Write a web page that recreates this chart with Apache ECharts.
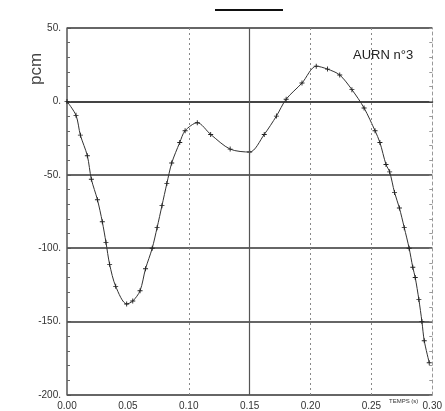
<!DOCTYPE html>
<html>
<head>
<meta charset="utf-8">
<script src="https://cdn.jsdelivr.net/npm/echarts@6/dist/echarts.min.js"></script>
<style>html,body{margin:0;padding:0;background:#fff}#c{width:445px;height:411px}</style>
</head>
<body>
<div id="c"></div>
<script>
// Data
var times = [0.000, 0.0074, 0.011, 0.0167, 0.020, 0.025, 0.029, 0.032, 0.035, 0.040, 0.049, 0.054, 0.060, 0.0645, 0.070, 0.074, 0.078, 0.082, 0.086, 0.0926, 0.097, 0.107, 0.118, 0.134, 0.150, 0.162, 0.172, 0.180, 0.193, 0.2047, 0.214, 0.224, 0.234, 0.244, 0.253, 0.257, 0.262, 0.265, 0.269, 0.273, 0.277, 0.281, 0.284, 0.286, 0.289, 0.2915, 0.2934, 0.2975];
var pcm   = [0, -9.5, -23, -37, -53, -67, -82, -96, -111, -126, -138, -136, -129, -114, -100, -86, -71, -56, -42, -28, -20, -14.5, -22.5, -32.5, -34.5, -22.5, -10, 1.5, 12.5, 24, 22, 18, 8, -4.5, -20, -28, -43, -48, -62, -72.6, -86, -100, -113, -120, -135, -150, -163, -178];
var xTicks = [0.00, 0.05, 0.10, 0.15, 0.20, 0.25, 0.30];
var yTicks = [50, 0, -50, -100, -150, -200];
var dottedVerticals = [0.10, 0.20, 0.25];
var solidVerticals = [0.15];

var pts = times.map(function (t, i) { return [t, pcm[i]]; });
var font = '"Liberation Sans", "DejaVu Sans", sans-serif';

var chart = echarts.init(document.getElementById('c'), null, {renderer: 'canvas'});
var markData = dottedVerticals.map(function (v) {
  return {xAxis: v, lineStyle: {type: [2, 3], color: '#888', width: 1}};
}).concat(solidVerticals.map(function (v) {
  return {xAxis: v, lineStyle: {type: 'solid', color: '#555', width: 1.2}};
}));

chart.setOption({
  animation: false,
  backgroundColor: '#fff',
  grid: {left: 67, right: 12, top: 28, bottom: 15},
  xAxis: {
    type: 'value', min: 0, max: 0.30, interval: 0.05,
    axisLine: {lineStyle: {color: '#444', width: 2}},
    axisTick: {show: false},
    splitLine: {show: false},
    axisLabel: {
      color: '#333', fontSize: 10, fontFamily: font, margin: 6,
      formatter: function (v) { return v.toFixed(2); }
    }
  },
  yAxis: [{
    type: 'value', min: -200, max: 50, interval: 50,
    axisLine: {show: true, lineStyle: {color: '#555', width: 1.5}},
    axisTick: {show: true, inside: true, length: 4, lineStyle: {color: '#555'}},
    minorTick: {show: true, splitNumber: 5, length: 3, lineStyle: {color: '#666'}},
    splitLine: {show: true, lineStyle: {color: '#333', width: 1.5}},
    axisLabel: {
      color: '#333', fontSize: 10, fontFamily: font, margin: 6,
      formatter: function (v) { return v + '.'; }
    }
  }, {
    type: 'value', min: -200, max: 50, interval: 50, position: 'right',
    axisLine: {show: true, lineStyle: {color: '#999', width: 1, type: [3, 3]}},
    axisTick: {show: true, inside: true, length: 3, lineStyle: {color: '#888'}},
    minorTick: {show: true, splitNumber: 5, length: 3, lineStyle: {color: '#999'}},
    splitLine: {show: false},
    axisLabel: {show: false}
  }],
  series: [{
    type: 'line',
    data: pts,
    smooth: 0.3,
    symbol: 'path://M-1,-0.18h2v0.36h-2z M-0.18,-1h0.36v2h-0.36z',
    symbolSize: 5,
    itemStyle: {color: '#222'},
    lineStyle: {color: '#333', width: 1},
    markLine: {
      silent: true, symbol: 'none', label: {show: false},
      data: markData
    }
  }],
  graphic: [
    {type: 'line', shape: {x1: 215, y1: 10, x2: 283, y2: 10}, style: {stroke: '#111', lineWidth: 2}},
    {type: 'text', x: 36, y: 69, rotation: Math.PI / 2,
      style: {text: 'pcm', fontSize: 17, fontFamily: font, fill: '#444', textAlign: 'center', textVerticalAlign: 'middle'}},
    {type: 'text', x: 353, y: 55,
      style: {text: 'AURN n°3', fontSize: 13, fontFamily: font, fill: '#222', textVerticalAlign: 'middle'}},
    {type: 'text', x: 389, y: 401,
      style: {text: 'TEMPS (s)', fontSize: 6, fontFamily: font, fill: '#333', textVerticalAlign: 'middle'}}
  ]
});
</script>
</body>
</html>
